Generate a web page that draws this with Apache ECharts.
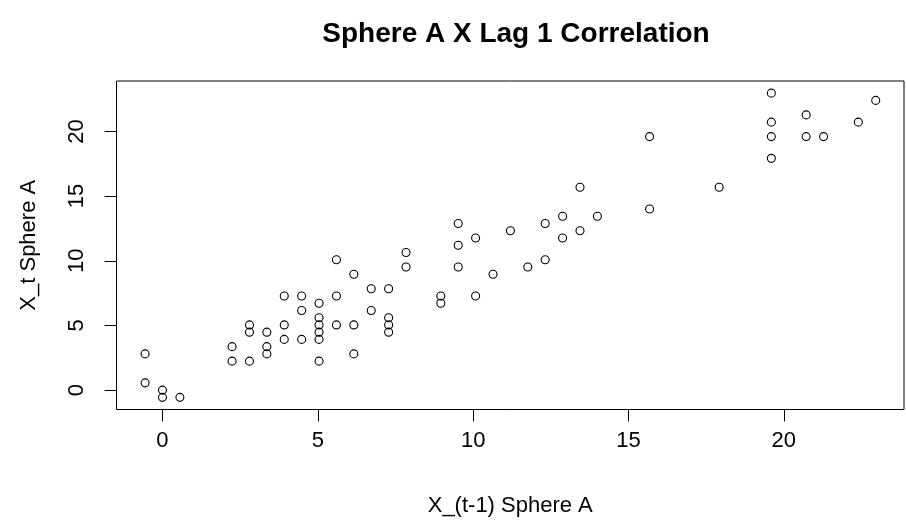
<!DOCTYPE html>
<html>
<head>
<meta charset="utf-8">
<script src="https://cdn.jsdelivr.net/npm/echarts@6/dist/echarts.min.js"></script>
<style>
html,body{margin:0;padding:0;background:#fff;}
#chart{width:906px;height:522px;}
</style>
</head>
<body>
<div id="chart"></div>
<script>
var titleText = "Sphere A X Lag 1 Correlation";
var xName = "X_(t-1) Sphere A";
var yName = "X_t Sphere A";
var xTicks = [0, 5, 10, 15, 20];
var yTicks = [0, 5, 10, 15, 20];
// X_(t-1) values
var xVals = [
  -0.56, -0.56, 0, 0, 0.56,
  2.24, 2.24, 2.8, 2.8, 2.8, 3.36, 3.36, 3.36,
  3.92, 3.92, 3.92, 4.48, 4.48, 4.48,
  5.04, 5.04, 5.04, 5.04, 5.04, 5.04,
  5.6, 5.6, 5.6, 6.16, 6.16, 6.16, 6.72, 6.72,
  7.28, 7.28, 7.28, 7.28, 7.84, 7.84, 8.96, 8.96,
  9.52, 9.52, 9.52, 10.08, 10.08, 10.64, 11.2, 11.76,
  12.32, 12.32, 12.88, 12.88, 13.44, 13.44, 14.0,
  15.68, 15.68, 17.92, 19.6, 19.6, 19.6, 19.6,
  20.72, 20.72, 21.28, 22.4, 22.96
];
// X_t values
var yVals = [
  2.8, 0.56, 0, -0.56, -0.56,
  3.36, 2.24, 5.04, 4.48, 2.24, 4.48, 3.36, 2.8,
  7.28, 5.04, 3.92, 7.28, 6.16, 3.92,
  6.72, 5.6, 5.04, 4.48, 3.92, 2.24,
  10.08, 7.28, 5.04, 8.96, 5.04, 2.8, 7.84, 6.16,
  7.84, 5.6, 5.04, 4.48, 10.64, 9.52, 7.28, 6.72,
  12.88, 11.2, 9.52, 11.76, 7.28, 8.96, 12.32, 9.52,
  12.88, 10.08, 13.44, 11.76, 15.68, 12.32, 13.44,
  19.6, 14.0, 15.68, 22.96, 20.72, 19.6, 17.92,
  21.28, 19.6, 19.6, 20.72, 22.4
];

var pts = xVals.map(function (x, i) { return [x, yVals[i]]; });
var font = "'Liberation Sans', Arial, sans-serif";

var chart = echarts.init(document.getElementById('chart'), null, {renderer: 'canvas'});
chart.setOption({
  animation: false,
  backgroundColor: '#ffffff',
  title: {
    text: titleText,
    left: 511,
    top: 15,
    textAlign: 'center',
    textStyle: {fontFamily: font, fontSize: 28, fontWeight: 'bold', color: '#000'}
  },
  grid: {
    left: 116.5, right: 2, top: 81, bottom: 112.5,
    show: true, borderColor: '#000', borderWidth: 1,
    containLabel: false, outerBoundsMode: 'none'
  },
  xAxis: {
    type: 'value',
    min: -1.48, max: 23.87,
    name: xName,
    nameLocation: 'middle',
    nameGap: 85,
    nameTextStyle: {fontFamily: font, fontSize: 22, color: '#000'},
    splitLine: {show: false},
    axisLine: {show: false, onZero: false},
    axisTick: {show: true, customValues: xTicks, length: 12, inside: false, lineStyle: {color: '#000', width: 1}},
    axisLabel: {customValues: xTicks, fontFamily: font, fontSize: 22, color: '#000', margin: 20}
  },
  yAxis: {
    type: 'value',
    min: -1.5, max: 23.9,
    name: yName,
    nameLocation: 'middle',
    nameGap: 77,
    nameRotate: 90,
    nameTextStyle: {fontFamily: font, fontSize: 22, color: '#000'},
    splitLine: {show: false},
    axisLine: {show: false, onZero: false},
    axisTick: {show: true, customValues: yTicks, length: 12, inside: false, lineStyle: {color: '#000', width: 1}},
    axisLabel: {customValues: yTicks, rotate: 90, fontFamily: font, fontSize: 22, color: '#000', margin: 29}
  },
  series: [{
    type: 'scatter',
    data: pts,
    symbol: 'circle',
    symbolSize: 8,
    itemStyle: {color: 'rgba(0,0,0,0)', borderColor: '#000', borderWidth: 1.1, opacity: 1},
    emphasis: {disabled: true}
  }]
});
</script>
</body>
</html>
